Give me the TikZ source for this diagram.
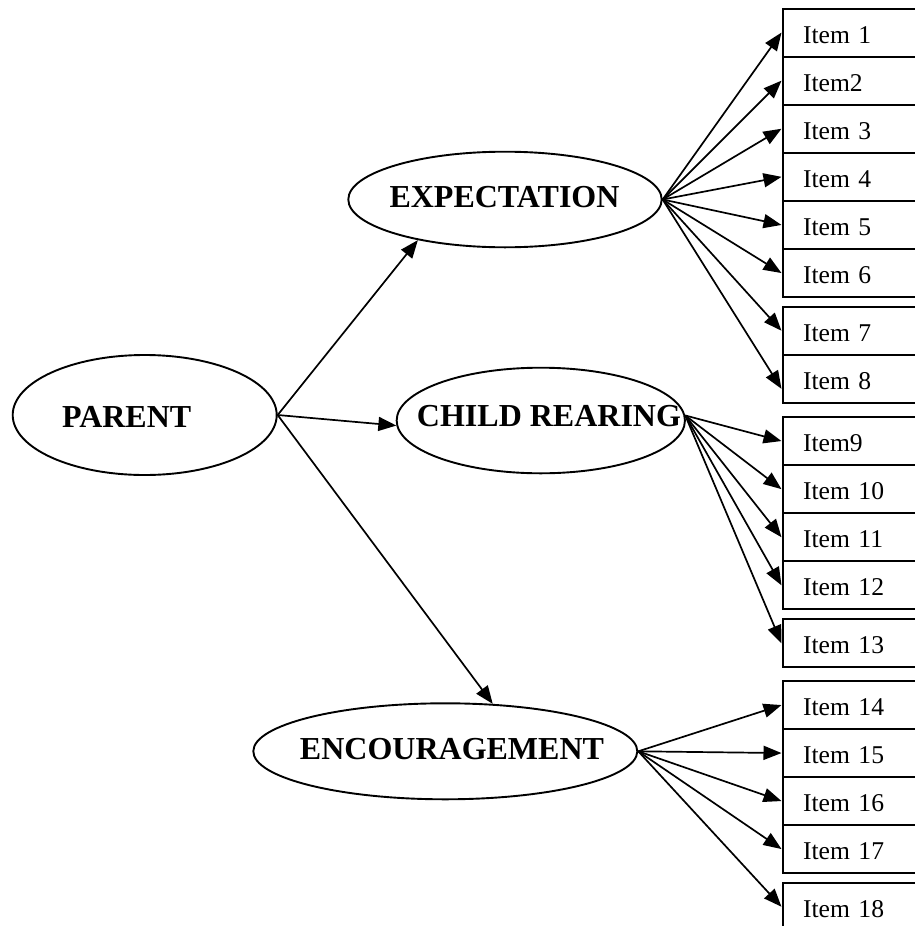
\documentclass[tikz,border=0pt]{standalone}
\usepackage{fontspec}
\setmainfont{Liberation Serif}
\usetikzlibrary{shapes.geometric,arrows.meta}
\begin{document}
\begin{tikzpicture}[x=1pt,y=-1pt,
  conn/.style={line width=1.7pt,-{Triangle[length=18pt,width=14pt]}},
  construct/.style={ellipse,draw,line width=1.9pt,inner sep=0pt},
  ctext/.style={font=\fontsize{32}{36}\selectfont\bfseries,inner sep=0pt},
  itembox/.style={draw,rectangle,line width=2pt,anchor=north west,
    minimum height=48.1pt,text width=120pt,align=left,inner xsep=20.5pt,
    inner ysep=0pt,text height=21pt,text depth=0pt,
    font=\fontsize{25.6}{30}\selectfont}]
\useasboundingbox (0,0) rectangle (915,926);

% latent constructs
\node[construct,minimum width=264pt,minimum height=120pt] (parent) at (144.7,415) {};
\node[ctext] (parentlbl) at (126.7,417) {PARENT};
\node[construct,minimum width=313.4pt,minimum height=95.6pt] (exp) at (505,199.5) {};
\node[ctext] (explbl) at (504.5,197.5) {EXPECTATION};
\node[construct,minimum width=288.3pt,minimum height=105.6pt] (child) at (540.8,420.5) {};
\node[ctext] (childlbl) at (549,416.5) {CHILD REARING};
\node[construct,minimum width=384pt,minimum height=96pt] (enc) at (445.3,751.3) {};
\node[ctext] (enclbl) at (452,749.5) {ENCOURAGEMENT};

% indicator items
\node[itembox] (i1)  at (781.5,7.5)   {Item 1};
\node[itembox] (i2)  at (781.5,55.6)  {Item2};
\node[itembox] (i3)  at (781.5,103.7) {Item 3};
\node[itembox] (i4)  at (781.5,151.8) {Item 4};
\node[itembox] (i5)  at (781.5,199.9) {Item 5};
\node[itembox] (i6)  at (781.5,248)   {Item 6};
\node[itembox] (i7)  at (781.5,305.7) {Item 7};
\node[itembox] (i8)  at (781.5,353.8) {Item 8};
\node[itembox] (i9)  at (781.5,416)   {Item9};
\node[itembox] (i10) at (781.5,464.1) {Item 10};
\node[itembox] (i11) at (781.5,512.2) {Item 11};
\node[itembox] (i12) at (781.5,560.3) {Item 12};
\node[itembox] (i13) at (781.5,618.3) {Item 13};
\node[itembox] (i14) at (781.5,680)   {Item 14};
\node[itembox] (i15) at (781.5,728)   {Item 15};
\node[itembox] (i16) at (781.5,776)   {Item 16};
\node[itembox] (i17) at (781.5,824)   {Item 17};
\node[itembox] (i18) at (781.5,881.7) {Item 18};

% paths from the parent construct
\draw[conn] (parent.east) -- (exp.205);
\draw[conn] (parent.east) -- (child.182);
\draw[conn] (parent.east) -- (enc.45);

% loadings
\foreach \i in {1,...,7} \draw[conn] (exp.east) -- (i\i.west);
\draw[conn] (exp.east) -- ([yshift=-10pt]i8.west);
\foreach \i in {9,...,13} \draw[conn] (child.2) -- (i\i.west);
\foreach \i in {14,...,18} \draw[conn] (enc.east) -- (i\i.west);
\end{tikzpicture}
\end{document}
